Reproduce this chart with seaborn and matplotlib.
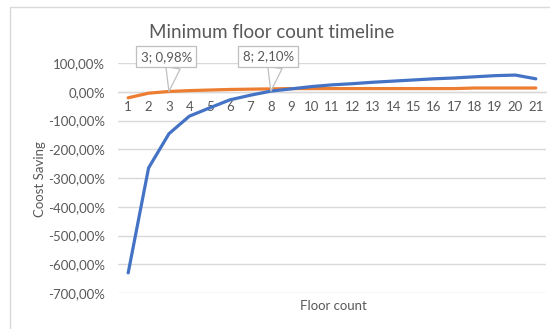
import matplotlib
matplotlib.use("Agg")
import matplotlib.pyplot as plt
import seaborn as sns
import pandas as pd
from matplotlib.ticker import FuncFormatter, FixedLocator
from matplotlib.patches import Rectangle

# ---- data (values in percent) ----
floors = list(range(1, 22))
series_a = [-630, -265, -146, -85, -56, -28, -12, 2.1, 10, 18, 24, 28, 33, 37, 41, 45, 48, 52, 56, 58, 45]
series_b = [-21, -5, 0.98, 4, 6, 8, 9, 10, 11, 11, 11, 11, 11, 11, 11, 11, 11, 13, 13, 13, 13]
series_names = ["A", "B"]
y_ticks = [100, 0, -100, -200, -300, -400, -500, -600, -700]
callouts = [(3, 0.98, "3; 0,98%"), (8, 2.10, "8; 2,10%")]

title = "Minimum floor count timeline"
x_label = "Floor count"
y_label = "Coost Saving"

df = pd.DataFrame({
    "floor": floors * 2,
    "value": series_a + series_b,
    "series": [series_names[0]] * len(floors) + [series_names[1]] * len(floors),
})

sns.set_theme(style="white")
plt.rcParams["font.family"] = ["Lato", "DejaVu Sans"]
txt = "#595959"
grid = "#d9d9d9"

fig = plt.figure(figsize=(5.5, 3.29), dpi=100)
ax = fig.add_axes([118 / 550, 1 - 293 / 329, (546 - 118) / 550, (293 - 63) / 329])

sns.lineplot(data=df, x="floor", y="value", hue="series",
             hue_order=series_names[::-1],
             palette={"A": "#4472C4", "B": "#ED7D31"},
             linewidth=2.3, legend=False, ax=ax, zorder=3)

ax.set_xlim(0.5, 21.5)
ax.set_ylim(-700, 100)
ax.yaxis.set_major_locator(FixedLocator(y_ticks))
ax.yaxis.set_major_formatter(FuncFormatter(lambda v, p: f"{v:.2f}".replace(".", ",") + "%"))
ax.xaxis.set_major_locator(FixedLocator(floors))
ax.grid(axis="y", color=grid, linewidth=1.0)
ax.grid(axis="x", visible=False)
for s in ["left", "right", "top"]:
    ax.spines[s].set_visible(False)
ax.spines["bottom"].set_position(("data", 0))
ax.spines["bottom"].set_color(grid)
ax.spines["bottom"].set_linewidth(1.0)
ax.tick_params(axis="both", length=0, colors=txt, labelsize=9.5)
ax.tick_params(axis="y", pad=9.5)
ax.tick_params(axis="x", pad=7)
ax.set_xlabel("")
ax.set_ylabel("")

for x, y, s in callouts:
    ax.annotate(s, xy=(x, y), xytext=(-2, 25), textcoords="offset points",
                ha="center", va="center", color=txt, fontsize=9.5, zorder=5,
                bbox=dict(boxstyle="square,pad=0.35", fc="white", ec="#bfbfbf", lw=0.9),
                arrowprops=dict(arrowstyle="wedge,tail_width=1.1,shrink_factor=0.5",
                                fc="white", ec="#bfbfbf", lw=0.9,
                                shrinkA=0, shrinkB=0, relpos=(0.65, 0.0)))

fig.text(272 / 550, 1 - 33 / 329, title, ha="center", va="center", fontsize=13.5, color=txt)
fig.text(333 / 550, 1 - 306 / 329, x_label, ha="center", va="center", fontsize=9.5, color=txt)
fig.text(40 / 550, 1 - 179 / 329, y_label, ha="center", va="center", rotation=90, fontsize=9.5, color=txt)

fig.patches.append(Rectangle((10 / 550, -0.1), 1.2, 1 - 7 / 329 + 0.1, transform=fig.transFigure,
                             fill=False, ec=grid, lw=1.0))

fig.savefig("out.png", dpi=100, facecolor="white")
